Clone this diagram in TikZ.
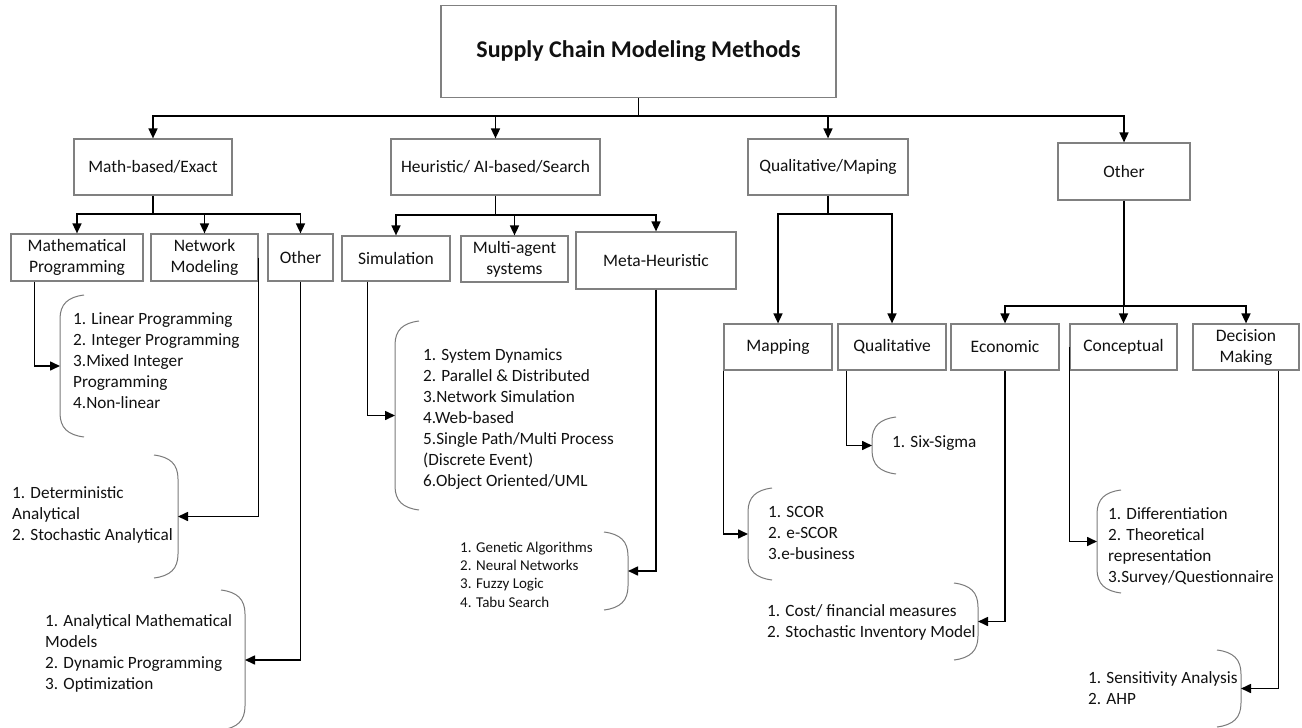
\documentclass[tikz,border=0pt]{standalone}
\usepackage{fontspec}
\setmainfont{Carlito}
\usetikzlibrary{arrows.meta}

\definecolor{boxline}{HTML}{808080}
\definecolor{brkline}{HTML}{7A7A7A}
\definecolor{ink}{HTML}{111111}

% bracket opening to the right: name, spine x, top y, bottom y
\newcommand\openbrk[4]{%
  \draw[brk] (#2+24,#3) .. controls (#2+8,#3+2) and (#2,#3+9) .. (#2,#3+24)
    -- (#2,#4-24) .. controls (#2,#4-9) and (#2+8,#4-2) .. (#2+24,#4);
  \coordinate (#1) at (#2,{(#3+#4)/2});}
% bracket opening to the left: name, spine x, top y, bottom y
\newcommand\closebrk[4]{%
  \draw[brk] (#2-24,#3) .. controls (#2-8,#3+2) and (#2,#3+9) .. (#2,#3+24)
    -- (#2,#4-24) .. controls (#2,#4-9) and (#2-8,#4-2) .. (#2-24,#4);
  \coordinate (#1) at (#2,{(#3+#4)/2});}

\tikzset{
  box/.style={draw=boxline, line width=1.2pt, fill=white, align=center,
    inner sep=0pt, text=ink},
  lvlone/.style={box, font=\fontsize{17.4}{21}\selectfont},
  lvltwo/.style={box, font=\fontsize{17.5}{21}\selectfont},
  lst/.style={anchor=west, align=left, inner sep=0pt, text=ink,
    font=\fontsize{17.2}{21}\selectfont},
  smalllst/.style={lst, font=\fontsize{15}{18.3}\selectfont},
  conn/.style={line width=1.6pt, draw=black},
  arr/.style={conn, -{Triangle[length=10pt,width=9pt]}},
  brk/.style={draw=brkline, line width=1pt},
}

\begin{document}
\begin{tikzpicture}[x=1pt,y=-1pt]
\useasboundingbox (0,0) rectangle (1302,728);

% root
\node[box, minimum width=395, minimum height=92,
      font=\bfseries\fontsize{24}{28}\selectfont] (root) at (638.5,51.5)
      {Supply Chain Modeling Methods};

% first level
\node[lvlone, minimum width=158, minimum height=56] (mbe) at (153,167) {Math-based/Exact};
\node[lvlone, minimum width=209, minimum height=56] (heu) at (495.5,167) {Heuristic/ AI-based/Search};
\node[lvlone, minimum width=160, minimum height=56] (qm) at (828,167) {Qualitative/Maping};
\node[lvlone, minimum width=132, minimum height=57] (oth) at (1124,171.5) {Other};

% second level
\node[lvltwo, minimum width=132, minimum height=47] (mp) at (77,257.5) {Mathematical\\Programming};
\node[lvltwo, minimum width=107, minimum height=47] (nm) at (204.5,257.5) {Network\\Modeling};
\node[lvltwo, minimum width=65, minimum height=47] (ot1) at (300.5,257.5) {Other};
\node[lvltwo, minimum width=108, minimum height=45] (sim) at (396,258.5) {Simulation};
\node[lvltwo, minimum width=107, minimum height=46] (mas) at (514.5,259) {Multi-agent\\systems};
\node[lvltwo, minimum width=160, minimum height=57] (meta) at (656,260.5) {Meta-Heuristic};
\node[lvltwo, minimum width=108, minimum height=46] (map) at (778,347) {Mapping};
\node[lvltwo, minimum width=108, minimum height=46] (qual) at (892,347) {Qualitative};
\node[lvltwo, minimum width=108, minimum height=46] (eco) at (1005,347) {Economic};
\node[lvltwo, minimum width=107, minimum height=46] (con) at (1123.5,347) {Conceptual};
\node[lvltwo, minimum width=106, minimum height=46] (dm) at (1246,347) {Decision\\Making};

% junction points of the tree
\coordinate (j0) at (638.5,116);
\coordinate (j1) at (153,214);
\coordinate (j2) at (495.5,215);
\coordinate (j3) at (828,214);
\coordinate (j4) at (1124,306);

\draw[conn] (root) -- (j0);
\foreach \n in {mbe,heu,qm,oth} \draw[arr] (j0) -| (\n);
\draw[conn] (mbe) -- (j1);
\foreach \n in {mp,nm,ot1} \draw[arr] (j1) -| (\n);
\draw[conn] (heu) -- (j2);
\foreach \n in {sim,mas,meta} \draw[arr] (j2) -| (\n);
\draw[conn] (qm) -- (j3);
\foreach \n in {map,qual} \draw[arr] (j3) -| (\n);
\draw[conn] (oth) -- (j4);
\foreach \n in {eco,con,dm} \draw[arr] (j4) -| (\n);

% brackets
\openbrk{b1}{60}{295}{437}
\closebrk{b2}{178}{455}{578}
\closebrk{b3}{245}{590}{730}
\openbrk{b4}{395}{321}{510}
\closebrk{b5}{628}{532}{610}
\openbrk{b6}{748}{488}{580}
\openbrk{b7}{872}{417}{474}
\closebrk{b8}{978}{583}{660}
\openbrk{b9}{1097}{490}{593}
\closebrk{b10}{1241}{650}{727}

% lists
\node[lst] (l1) at (73,361) {1. Linear Programming\\2. Integer Programming\\3.Mixed Integer\\Programming\\4.Non-linear};
\node[lst] (l2) at (12,515) {1. Deterministic\\Analytical\\2. Stochastic Analytical};
\node[lst] (l3) at (45,653.5) {1. Analytical Mathematical\\Models\\2. Dynamic Programming\\3. Optimization};
\node[lst] (l4) at (423,419.5) {1. System Dynamics\\2. Parallel \& Distributed\\3.Network Simulation\\4.Web-based\\5.Single Path/Multi Process\\(Discrete Event)\\6.Object Oriented/UML};
\node[smalllst] (l5) at (460,574.5) {1. Genetic Algorithms\\2. Neural Networks\\3. Fuzzy Logic\\4. Tabu Search};
\node[lst] (l6) at (768,533) {1. SCOR\\2. e-SCOR\\3.e-business};
\node[lst] (l7) at (892,443) {1. Six-Sigma};
\node[lst] (l8) at (767,622.5) {1. Cost/ financial measures\\2. Stochastic Inventory Model};
\node[lst] (l9) at (1108,546.5) {1. Differentiation\\2. Theoretical\\representation\\3.Survey/Questionnaire};
\node[lst] (l10) at (1088,688) {1. Sensitivity Analysis\\2. AHP};

% branches to the lists
\draw[arr] ([xshift=24pt]mp.south west) |- (b1);
\draw[arr] (nm.east) |- (b2);
\draw[arr] (ot1.south) |- (b3);
\draw[arr] ([xshift=26pt]sim.south west) |- (b4);
\draw[arr] (meta.south) |- (b5);
\draw[arr] (map.south west) |- (b6);
\draw[arr] ([xshift=9pt]qual.south west) |- (b7);
\draw[arr] (eco.south) |- (b8);
\draw[arr] (con.west) |- (b9);
\draw[arr] ([xshift=-21pt]dm.south east) |- (b10);
\end{tikzpicture}
\end{document}
